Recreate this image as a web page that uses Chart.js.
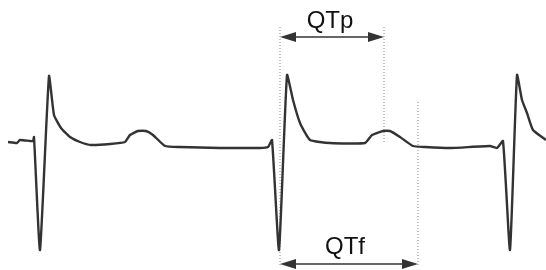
<!DOCTYPE html>
<html lang="en">
<head>
    <meta charset="UTF-8">
    <title>QTp / QTf</title>
    <script src="https://cdn.jsdelivr.net/npm/chart.js@4.4.0/dist/chart.umd.min.js"></script>
    <style>
        html, body { margin: 0; padding: 0; background: #fff; }
        #wrap { width: 546px; height: 270px; }
    </style>
</head>
<body>
    <div id="wrap"><canvas id="ecgChart"></canvas></div>

<script>
// trace (x = time units, y = screen-like amplitude, reversed axis)
var traceX = [8, 17, 20, 30, 33, 34, 40, 49, 54, 61, 70, 80, 91, 110, 125, 130, 138, 146, 153, 165, 180, 220,
              260, 268, 272, 279, 287, 293, 300, 310, 330, 365, 372, 383, 390, 400, 413, 425, 450, 490, 497, 503,
              510, 517, 522, 527, 533, 546];
var traceY = [142, 143, 140, 141, 141, 137, 250, 76, 115, 128, 137, 142, 145, 144, 142, 135, 131, 131, 135, 146, 147, 148,
              148, 147, 140, 250, 75, 100, 123, 140, 143, 143, 135, 131, 131, 137, 146, 147, 148, 146, 148, 141,
              250, 75, 100, 113, 130, 140];

// interval markers
var qtStart = 280;
var qtPeak = 384;
var qtEnd = 418;
var markerTop = [27, 27, 102];      // top of each dotted guide
var markerBottom = [267, 142, 267]; // bottom of each dotted guide
var intervalLabels = ['QTp', 'QTf'];
var arrowLevels = [37, 264];
var labelLevels = [28, 254];

var traceData = traceX.map(function (x, i) { return { x: x, y: traceY[i] }; });
var guideX = [qtStart, qtPeak, qtEnd];

var guideSets = guideX.map(function (x, i) {
    return {
        data: [{ x: x, y: markerTop[i] }, { x: x, y: markerBottom[i] }],
        showLine: true,
        borderColor: '#888',
        borderWidth: 1,
        borderDash: [1, 2],
        pointRadius: 0,
        tension: 0
    };
});

// arrows + labels drawn through the scales
var intervalPlugin = {
    id: 'intervals',
    afterDatasetsDraw: function (chart) {
        var ctx = chart.ctx;
        var xs = chart.scales.x, ys = chart.scales.y;
        var spans = [[qtStart, qtPeak], [qtStart, qtEnd]];
        ctx.save();
        spans.forEach(function (s, i) {
            var x1 = xs.getPixelForValue(s[0]);
            var x2 = xs.getPixelForValue(s[1]);
            var y = ys.getPixelForValue(arrowLevels[i]);
            ctx.strokeStyle = '#333';
            ctx.fillStyle = '#333';
            ctx.lineWidth = 1.5;
            ctx.beginPath();
            ctx.moveTo(x1 + 10, y);
            ctx.lineTo(x2 - 10, y);
            ctx.stroke();
            // heads
            ctx.beginPath();
            ctx.moveTo(x1, y);
            ctx.lineTo(x1 + 16, y - 5);
            ctx.lineTo(x1 + 16, y + 5);
            ctx.closePath();
            ctx.fill();
            ctx.beginPath();
            ctx.moveTo(x2, y);
            ctx.lineTo(x2 - 16, y - 5);
            ctx.lineTo(x2 - 16, y + 5);
            ctx.closePath();
            ctx.fill();

            ctx.fillStyle = '#111';
            ctx.font = '24px "Liberation Sans", Arial, sans-serif';
            ctx.textAlign = 'center';
            ctx.textBaseline = 'alphabetic';
            var cx = i === 0 ? (x1 + x2) / 2 - 2 : (x1 + x2) / 2 - 4;
            ctx.fillText(intervalLabels[i], cx, ys.getPixelForValue(labelLevels[i]));
        });
        ctx.restore();
    }
};

var ctx = document.getElementById('ecgChart').getContext('2d');
var ecgChart = new Chart(ctx, {
    type: 'scatter',
    data: {
        datasets: [{
            data: traceData,
            showLine: true,
            borderColor: '#333',
            borderWidth: 2.4,
            pointRadius: 0,
            tension: 0.15,
            borderJoinStyle: 'round'
        }].concat(guideSets)
    },
    options: {
        responsive: true,
        maintainAspectRatio: false,
        animation: false,
        layout: { padding: 0 },
        plugins: { legend: { display: false }, tooltip: { enabled: false } },
        scales: {
            x: { type: 'linear', min: 0, max: 546, display: false },
            y: { type: 'linear', min: 0, max: 270, reverse: true, display: false }
        }
    },
    plugins: [intervalPlugin]
});
</script>
</body>
</html>
